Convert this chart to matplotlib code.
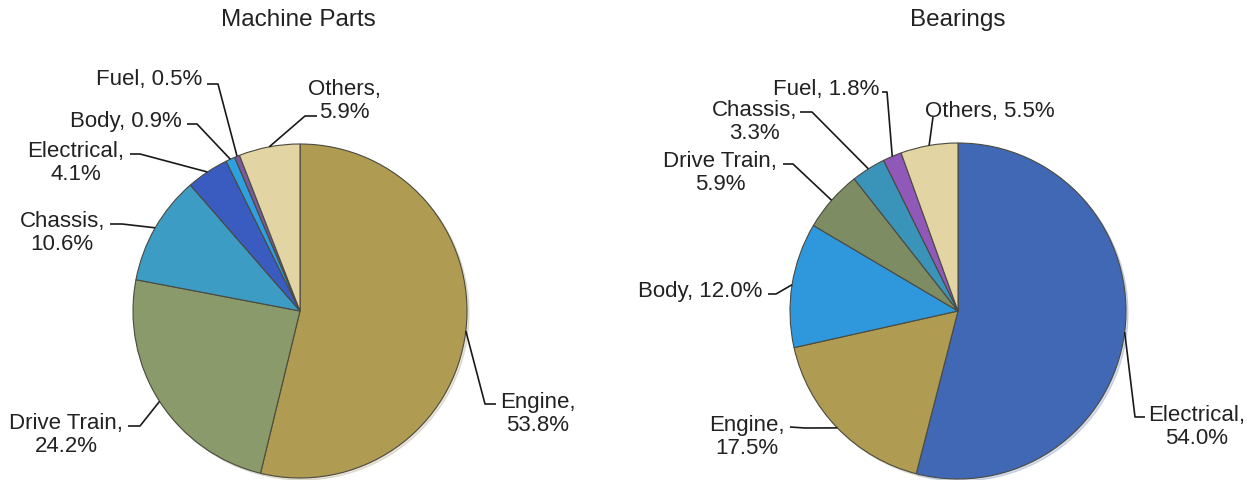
import matplotlib
matplotlib.use('Agg')
import matplotlib.pyplot as plt
import numpy as np

plt.rcParams['font.family'] = ['Liberation Sans', 'DejaVu Sans']

# ---------------- data ----------------
left_title = "Machine Parts"
left_parts = ["Engine", "Drive Train", "Chassis", "Electrical", "Body", "Fuel", "Others"]
left_share = [53.8, 24.2, 10.6, 4.1, 0.9, 0.5, 5.9]
left_colors = ['#B09B52', '#8A9A6A', '#3C9CC4', '#3A5CC0', '#2EA0E0', '#7A5A9A', '#E3D4A4']

right_title = "Bearings"
right_parts = ["Electrical", "Engine", "Body", "Drive Train", "Chassis", "Fuel", "Others"]
right_share = [54.0, 17.5, 12.0, 5.9, 3.3, 1.8, 5.5]
right_colors = ['#4068B5', '#B09B52', '#2F98DC', '#7E8C63', '#3A94B9', '#9058B8', '#E3D4A4']

W, H = 1258, 481

def Y(y):
    # pixel row (from top) -> data y
    return H - y

fig = plt.figure(figsize=(W / 100, H / 100), dpi=100)
ax = fig.add_axes([0, 0, 1, 1])


def draw_pie(share, colors, center, radius):
    wedges, _ = ax.pie(share, colors=colors, startangle=90, counterclock=False,
                       center=(center[0], Y(center[1])), radius=radius,
                       wedgeprops=dict(edgecolor='#4a4a40', linewidth=0.8),
                       shadow={'ox': 1.5, 'oy': -1.5, 'shade': 0.2, 'alpha': 0.2})
    return wedges


def edge_point(w, center, radius):
    mid = np.deg2rad((w.theta1 + w.theta2) / 2)
    return center[0] + radius * np.cos(mid), Y(center[1]) + radius * np.sin(mid)


# label layout: text anchor (px), alignment, leader points from elbow to text (px)
left_layout = {
    "Engine":      ((500, 414), 'left',  [(485, 405), (496, 405)]),
    "Drive Train": ((123, 435), 'right', [(140, 427), (128, 427)]),
    "Chassis":     ((105, 233), 'right', [(122, 225), (110, 225)]),
    "Electrical":  ((124, 163), 'right', [(140, 155), (130, 155)]),
    "Body":        ((182, 121), 'right', [(197, 125), (187, 125)]),
    "Fuel":        ((202, 80),  'right', [(218, 85), (207, 85)]),
    "Others":      ((308, 101), 'left',  [(305, 117), (317, 117)]),
}
left_two_line = {"Engine", "Drive Train", "Chassis", "Electrical", "Others"}

right_layout = {
    "Electrical":  ((1148, 427), 'left',  [(1135, 418), (1145, 418)]),
    "Engine":      ((785, 437),  'right', [(805, 429), (790, 428)]),
    "Body":        ((762, 292),  'right', [(776, 295), (768, 295)]),
    "Drive Train": ((777, 173),  'right', [(793, 165), (783, 165)]),
    "Chassis":     ((797, 122),  'right', [(812, 113), (800, 113)]),
    "Fuel":        ((879, 90),   'right', [(887, 93), (882, 93)]),
    "Others":      ((925, 112),  'left',  [(933, 118)]),
}
right_two_line = {"Electrical", "Engine", "Drive Train", "Chassis"}


def label_pie(wedges, parts, share, center, radius, layout, two_line):
    for w, name, v in zip(wedges, parts, share):
        (tx, ty), ha, pts = layout[name]
        sep = "\n" if name in two_line else " "
        ax.text(tx, Y(ty), f"{name},{sep}{v:.1f}%", ha=ha, va='center',
                multialignment='center', fontsize=16, color='#222222', linespacing=1.15)
        ex, ey = edge_point(w, center, radius)
        xs = [ex] + [p[0] for p in pts]
        ys = [ey] + [Y(p[1]) for p in pts]
        ax.plot(xs, ys, color='#1a1a1a', linewidth=1.2, solid_capstyle='butt')


lc, lr = (300, 312), 167
rc, rr = (958, 312), 168

lw = draw_pie(left_share, left_colors, lc, lr)
rw = draw_pie(right_share, right_colors, rc, rr)
label_pie(lw, left_parts, left_share, lc, lr, left_layout, left_two_line)
label_pie(rw, right_parts, right_share, rc, rr, right_layout, right_two_line)

ax.text(lc[0] - 2, Y(20), left_title, ha='center', va='center', fontsize=17.5, color='#222222')
ax.text(rc[0], Y(20), right_title, ha='center', va='center', fontsize=17.5, color='#222222')

ax.set_xlim(0, W)
ax.set_ylim(0, H)
ax.set_aspect('equal')
ax.axis('off')

fig.savefig('out.png', dpi=100, facecolor='white')
